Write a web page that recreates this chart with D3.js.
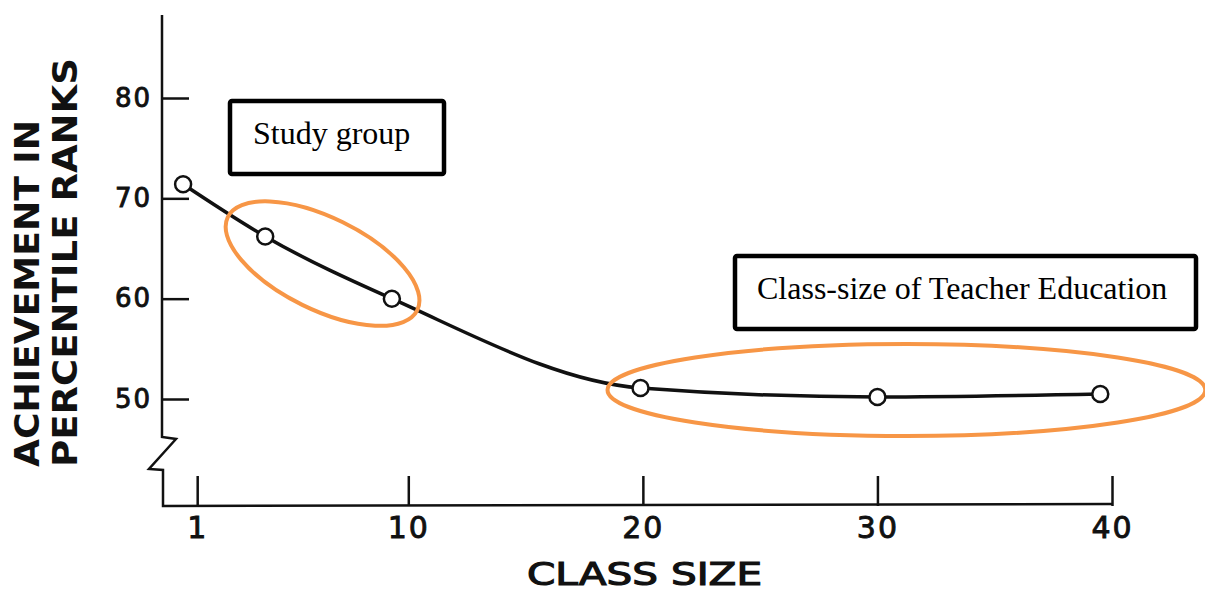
<!DOCTYPE html>
<html>
<head>
<meta charset="utf-8">
<script src="https://cdn.jsdelivr.net/npm/d3@7"></script>
<style>
  body { margin: 0; background: #fff; }
  #chart { width: 1205px; height: 592px; }
</style>
</head>
<body>
<div id="chart"></div>
<script>
// data
const classSize = [0.4, 3.9, 9.3, 19.9, 30.0, 39.5];
const achievement = [71.4, 66.2, 60.0, 51.1, 50.2, 50.5];
const xTicks = [1, 10, 20, 30, 40];
const yTicks = [50, 60, 70, 80];
const yTitle = ["ACHIEVEMENT IN", "PERCENTILE RANKS"];
const xTitle = "CLASS SIZE";
const notes = ["Study group", "Class-size of Teacher Education"];

const width = 1205;
const height = 592;
const orange = "#f79646";
const tickFont = "'DejaVu Sans', sans-serif";

const svg = d3.select("#chart")
    .append("svg")
    .attr("width", width)
    .attr("height", height);

svg.append("rect").attr("width", width).attr("height", height).attr("fill", "#fff");

// scales
const x = d3.scaleLinear().domain([-0.5, 40]).range([162, 1112]);
const y = d3.scaleLinear().domain([50, 80]).range([399, 98]);
const x0 = x.range()[0];
const yBase = 506;

// axis frame with the broken y axis
const frame = [
    [x0, 15], [x0, 437], [x0 + 14, 439], [x0 - 13, 469],
    [x0 + 1, 470], [x0 + 1, yBase], [x.range()[1], yBase - 2]
];
svg.append("path")
    .attr("d", d3.line()(frame))
    .attr("fill", "none")
    .attr("stroke", "#111")
    .attr("stroke-width", 2.5)
    .attr("stroke-linejoin", "miter");

// y axis ticks (pointing inward), labels on the left
const yAxis = svg.append("g")
    .attr("transform", `translate(${x0}, 0)`)
    .call(d3.axisLeft(y).tickValues(yTicks).tickSize(-27).tickPadding(10));
yAxis.select(".domain").remove();
yAxis.selectAll("line").attr("stroke", "#111").attr("stroke-width", 2.5);
yAxis.selectAll("text")
    .attr("font-family", tickFont)
    .attr("font-size", 26)
    .attr("letter-spacing", 2)
    .attr("fill", "#111")
    .attr("stroke", "#111")
    .attr("stroke-width", 0.9);

// x axis ticks pointing up
const xAxis = svg.append("g")
    .attr("transform", `translate(0, ${yBase})`)
    .call(d3.axisBottom(x).tickValues(xTicks).tickSize(-30).tickPadding(11).tickFormat(d3.format("d")));
xAxis.select(".domain").remove();
xAxis.selectAll("line").attr("stroke", "#111").attr("stroke-width", 2.5);
xAxis.selectAll("text")
    .attr("font-family", tickFont)
    .attr("font-size", 30)
    .attr("letter-spacing", 2)
    .attr("fill", "#111")
    .attr("stroke", "#111")
    .attr("stroke-width", 0.9);

// axis titles
svg.selectAll(".ytitle")
    .data(yTitle)
    .enter()
    .append("text")
    .attr("class", "ytitle")
    .attr("transform", (d, i) => `translate(${39 + i * 38}, 467) rotate(-90)`)
    .attr("font-family", tickFont)
    .attr("font-weight", "bold")
    .attr("font-size", 33)
    .attr("textLength", (d, i) => i === 0 ? 347 : 409)
    .attr("lengthAdjust", "spacingAndGlyphs")
    .attr("fill", "#111")
    .text(d => d);

svg.append("text")
    .attr("x", 527)
    .attr("y", 585)
    .attr("font-family", tickFont)
    .attr("font-size", 32)
    .attr("textLength", 235)
    .attr("lengthAdjust", "spacingAndGlyphs")
    .attr("fill", "#111")
    .attr("stroke", "#111")
    .attr("stroke-width", 1.2)
    .text(xTitle);

// data line
const pts = classSize.map((c, i) => [x(c), y(achievement[i])]);
svg.append("path")
    .attr("d", d3.line().curve(d3.curveMonotoneX)(pts))
    .attr("fill", "none")
    .attr("stroke", "#111")
    .attr("stroke-width", 3.5);

svg.selectAll(".dot")
    .data(pts)
    .enter()
    .append("circle")
    .attr("class", "dot")
    .attr("cx", d => d[0])
    .attr("cy", d => d[1])
    .attr("r", 8)
    .attr("fill", "#fff")
    .attr("stroke", "#111")
    .attr("stroke-width", 2.5);

// orange ellipses round the highlighted points
const p1 = pts[1], p2 = pts[2];
const ang = Math.atan2(p2[1] - p1[1], p2[0] - p1[0]) * 180 / Math.PI;
svg.append("ellipse")
    .attr("transform", `translate(${(p1[0] + p2[0]) / 2 - 6}, ${(p1[1] + p2[1]) / 2 - 4}) rotate(${ang})`)
    .attr("rx", Math.hypot(p2[0] - p1[0], p2[1] - p1[1]) / 2 + 35)
    .attr("ry", 46)
    .attr("fill", "none")
    .attr("stroke", orange)
    .attr("stroke-width", 4);

const flat = pts.slice(3);
svg.append("ellipse")
    .attr("cx", (flat[0][0] + flat[2][0]) / 2 + 36)
    .attr("cy", d3.mean(flat, d => d[1]) - 3)
    .attr("rx", (flat[2][0] - flat[0][0]) / 2 + 69)
    .attr("ry", 46)
    .attr("fill", "none")
    .attr("stroke", orange)
    .attr("stroke-width", 4);

// annotation boxes
const boxes = [
    { x: 230, y: 101, w: 214, h: 73, tx: 253, ty: 144 },
    { x: 735, y: 256, w: 461, h: 73, tx: 757, ty: 299 }
];
const g = svg.selectAll(".note")
    .data(notes)
    .enter()
    .append("g")
    .attr("class", "note");
g.append("rect")
    .attr("x", (d, i) => boxes[i].x)
    .attr("y", (d, i) => boxes[i].y)
    .attr("width", (d, i) => boxes[i].w)
    .attr("height", (d, i) => boxes[i].h)
    .attr("rx", 2)
    .attr("fill", "#fff")
    .attr("stroke", "#000")
    .attr("stroke-width", 4.5);
g.append("text")
    .attr("x", (d, i) => boxes[i].tx)
    .attr("y", (d, i) => boxes[i].ty)
    .attr("font-family", "'Liberation Serif', 'Times New Roman', serif")
    .attr("font-size", 32)
    .attr("fill", "#000")
    .text(d => d);
</script>
</body>
</html>
